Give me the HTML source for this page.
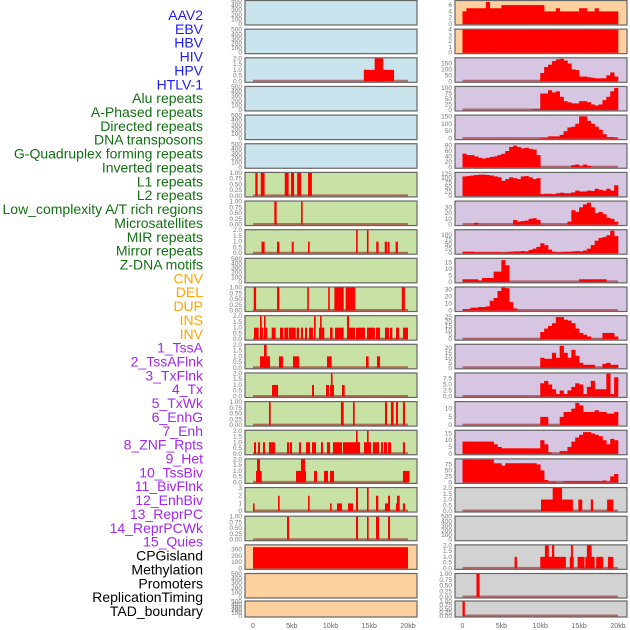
<!DOCTYPE html>
<html><head><meta charset="utf-8"><style>
html,body{margin:0;padding:0;background:#fff;}
svg{display:block;font-family:"Liberation Sans",sans-serif;}
</style></head><body>
<svg id="chart" width="630" height="630" viewBox="0 0 630 630" xmlns="http://www.w3.org/2000/svg">
<g id="labels"></g>
<g id="panels"></g>
<g id="xaxes"></g>
</svg>
<script>
// ---------- data ----------
const featureLabels = ["AAV2","EBV","HBV","HIV","HPV","HTLV-1","Alu repeats","A-Phased repeats","Directed repeats","DNA transposons","G-Quadruplex forming repeats","Inverted repeats","L1 repeats","L2 repeats","Low_complexity A/T rich regions","Microsatellites","MIR repeats","Mirror repeats","Z-DNA motifs","CNV","DEL","DUP","INS","INV","1_TssA","2_TssAFlnk","3_TxFlnk","4_Tx","5_TxWk","6_EnhG","7_Enh","8_ZNF_Rpts","9_Het","10_TssBiv","11_BivFlnk","12_EnhBiv","13_ReprPC","14_ReprPCWk","15_Quies","CPGisland","Methylation","Promoters","ReplicationTiming","TAD_boundary"];
const labelGroups = [6,13,5,15,5];
const xTickValues = [0,5,10,15,20];
const xTickLabels = ["0","5kb","10kb","15kb","20kb"];

const emptyTicks = [0,100,200,300,400,500];
const midColors = ["blue","blue","blue","blue","blue","blue","green","green","green","green","green","green","green","green","green","green","green","green","green","peach","peach","peach"];
const rightColors = ["peach","peach","lav","lav","lav","lav","lav","lav","lav","lav","lav","lav","lav","lav","lav","lav","lav","gray","gray","gray","gray","gray"];

// middle column: segments [startKb, endKb, value]
const midRow2Bars = [[14.3,18.2,1],[15.7,16.8,2]];
const midRow6Bars = [[0.3,0.6,1],[1.0,1.5,1],[4.1,4.6,1],[4.9,5.3,1],[5.7,6.2,1],[7.1,7.6,1]];
const midRow7Bars = [[2.75,3.05,1],[6.2,6.4,1]];
const midRow8Bars = [[1.1,1.5,1],[3.1,3.4,1],[5.0,5.25,1],[7.1,7.3,1],[13.3,13.5,2],[14.7,14.9,2],[15.9,16.2,1],[17.0,17.3,1],[17.4,17.6,1],[18.4,18.7,1]];
const midRow10Bars = [[0.1,0.4,1],[3.1,3.4,1],[7.0,7.2,1],[9.7,9.9,1],[10.5,11.7,1],[11.95,13.2,1],[19.2,19.6,1]];
const midRow11Bars = [[0.13,0.73,1],[0.9,1.12,2],[1.12,1.25,1],[1.42,1.63,2],[1.63,1.76,1],[2.41,2.92,1],[3.48,3.91,1],[4.04,4.56,1],[4.65,5.51,1],[5.63,5.94,1],[6.19,6.45,1],[6.71,6.97,1],[7.23,7.74,1],[7.87,8.09,2],[8.52,9.2,1],[8.65,8.82,2],[9.94,10.28,1],[10.58,11.7,1],[12.13,12.39,2],[12.39,13.16,1],[13.29,14.45,1],[14.71,15.74,1],[15.87,16.39,1],[17.03,17.55,1],[17.68,17.98,1],[18.45,18.84,1],[19.35,20.0,1]];
const midRow12Bars = [[0.9,2.19,1],[1.42,1.76,2],[3.35,3.87,1],[5.16,5.94,1],[9.55,10.15,1],[14.58,14.92,1],[16.0,16.39,1]];
const midRow13Bars = [[2.45,3.23,1],[7.61,7.87,1],[9.42,9.81,1],[9.94,10.45,1],[10.06,10.24,2],[11.48,11.83,1]];
const midRow14Bars = [[2.06,2.28,1],[11.35,11.7,1],[12.9,13.12,1],[17.03,17.29,1],[17.8,18.15,1],[18.45,18.71,1],[19.35,19.61,1]];
const midRow15Bars = [[0.13,0.39,1],[0.65,0.9,1],[1.29,1.55,1],[2.06,2.84,1],[4.39,4.65,1],[4.77,5.03,1],[5.94,6.19,1],[6.84,7.35,1],[7.61,8.13,1],[8.77,9.03,1],[9.55,9.94,1],[10.32,11.48,1],[11.61,13.81,1],[13.29,13.5,2],[14.32,15.23,1],[14.71,14.92,2],[15.48,16.26,1],[16.52,16.77,1],[16.9,17.29,1],[17.42,17.81,1],[19.35,19.61,1]];
const midRow16Bars = [[0.39,1.12,1],[0.52,0.9,2],[5.55,6.84,1],[6.19,6.71,2],[7.87,8.26,1],[9.16,9.68,1],[9.94,10.45,1],[19.35,20.2,1]];
const midRow17Bars = [[0,0.1,1],[3.23,3.44,2],[7.1,7.3,2],[9.94,10.15,1],[10.84,11.48,1],[12.26,12.9,1],[13.29,13.55,3],[14.71,14.92,3],[15.87,16.17,2],[17.03,17.55,1],[17.42,17.68,2],[18.45,18.71,1],[18.58,18.93,2],[19.35,19.61,1]];
const midRow18Bars = [[4.39,4.65,1],[13.29,13.55,1],[14.71,14.92,1],[15.87,16.26,1],[17.42,17.68,1]];
const midRow19Bars = [[0,20,340]];

// right column: 40 bins of 0.5kb
const rightRow0Bins = [4,5,5,5,5,5,7,5,5,5,6,6,6,6,6,6,6,6,6,6,6,4,4,4,5,4,4,4,4,4,5,5,4,4,5,4,4,4,4,4];
const rightRow1Bins = [4,4,4,4,4,4,4,4,4,4,4,4,4,4,4,4,4,4,4,4,4,4,4,4,4,4,4,4,4,4,4,4,4,4,4,4,4,4,4,4];
const rightRow2Bins = [0,0,0,0,0,0,0,0,0,0,0,0,0,0,0,0,0,0,0,0,70,120,140,170,185,190,175,150,100,95,40,40,35,30,25,25,25,50,75,40];
const rightRow3Bins = [0,0,0,0,0,0,0,0,0,0,0,0,0,0,0,0,0,0,3,3,75,75,90,80,85,60,40,35,30,30,40,40,35,25,20,25,45,60,85,100];
const rightRow4Bins = [0,0,0,0,0,0,0,0,0,0,0,0,0,0,0,0,0,0,0,0,5,5,15,15,15,25,50,75,80,100,150,150,120,100,80,60,30,10,10,5];
const rightRow5Bins = [50,45,45,40,35,32,35,38,40,45,50,60,75,80,75,70,72,68,65,45,0,0,0,0,0,0,0,0,8,10,5,10,5,0,0,0,0,0,0,0];
const rightRow6Bins = [110,112,115,118,120,120,118,115,110,105,85,95,105,100,95,110,112,105,95,100,10,12,12,10,15,18,15,15,20,30,25,25,30,28,40,35,30,40,30,60];
const rightRow7Bins = [0,0,0,3,0,0,0,0,0,0,0,0,0,8,5,6,7,10,11,8,0,0,0,0,0,0,0,5,25,22,30,35,38,30,20,22,18,12,10,5];
const rightRow8Bins = [8,8,8,5,5,5,5,5,6,5,3,5,8,10,10,12,10,18,25,35,55,45,20,8,5,5,8,8,10,12,10,15,25,45,70,85,90,100,125,95];
const rightRow9Bins = [2,2,2,2,1,3,3,3,8,8,17,13,0,0,0,0,0,0,0,0,0,0,0,0,0,0,0,0,0,0,2,2,2,2,2,2,2,0,0,0];
const rightRow10Bins = [2,2,4,4,5,5,6,14,18,28,33,32,12,3,0,0,0,0,0,0,0,0,0,0,0,0,0,0,0,0,0,0,0,0,0,0,0,0,0,0];
const rightRow11Bins = [0,0,0,0,0,0,0,0,0,0,0,0,0,0,0,0,0,0,0,0,8,12,15,18,25,25,22,21,18,12,7,5,3,0,0,0,7,7,7,3];
const rightRow12Bins = [0,0,0,0,0,0,0,0,0,0,0,0,0,0,0,0,0,0,0,0,10,9,9,15,10,22,15,10,18,12,5,3,3,3,0,0,4,5,3,3];
const rightRow13Bins = [0,0,0,0,0,0,0,0,0,0,0,0,0,0,0,0,0,0,0,0,5.5,6.5,5,3,1,2.5,1,2.5,4,5.5,5,1,4,6.5,3,3,3,9.5,1,8];
const rightRow14Bins = [0,0,0,0,0,0,0,0,0,0,0,0,0,0,0,0,0,0,0,0,5,5,0,0,0,5,8,8,10,13.5,12,8,8,8,9,8,8,7,7,8];
const rightRow15Bins = [9,9,9,9,9,9,9,9,7,5,4,4,4,4,4,4,4,4,4,4,10,7,1,0,0,2,2,5,9,12,14,16,16,15,14,13,10,7,11,10];
const rightRow16Bins = [95,95,95,95,95,95,95,95,80,80,70,80,80,80,80,80,80,80,80,75,50,10,3,3,0,0,5,5,5,5,5,5,5,5,5,5,8,3,25,35];
const rightRow17Bars = [[10.1,14.2,1],[11.6,12.8,2],[14.9,15.4,1],[16.5,16.8,1],[18.6,19.4,1]];
const rightRow19Bars = [[6.7,7.0,1],[10.0,13.3,1],[10.6,11.1,2],[11.5,11.8,2],[13.8,14.3,1],[13.95,14.2,2],[14.8,15.7,1],[15.8,17.0,1],[16.0,16.6,2],[17.2,18.1,1],[18.7,19.4,1]];
const rightRow20Bars = [[1.8,2.2,1]];
const rightRow21Bars = [[0,0.3,1]];

// tick arrays
const ticks2 = [0,0.5,1.0,1.5,2.0];
const ticks1 = [0,0.25,0.5,0.75,1.0];
const ticks3 = [0,1,2,3];

// ---------- drawing ----------
const NS = "http://www.w3.org/2000/svg";
const svg = document.getElementById("chart");
const gLabels = document.getElementById("labels");
const gPanels = document.getElementById("panels");
const gX = document.getElementById("xaxes");
const fills = {blue:"#c9e4ec",green:"#c8e1a5",peach:"#fdd09e",lav:"#d6c6e2",gray:"#d2d2d2"};
const cols = {mid:{x0:245,x1:417,d0:253,d1:408,tx:242}, right:{x0:455,x1:627,d0:462.5,d1:618,tx:452}};
function mk(tag, attrs, parent){const e=document.createElementNS(NS,tag);for(const k in attrs)e.setAttribute(k,attrs[k]);parent.appendChild(e);return e;}
function rowTop(i){return i<21? i*28.65+0.5 : 601;}
function rowH(i){return i<21? 24.5 : 16;}
function xScale(col,kb){return col.d0+(col.d1-col.d0)*kb/20;}
function fmt(v,t){const dec=t.some(x=>x%1!==0)?(t.some(x=>(x*100)%50!==0)?2:1):0;return v.toFixed(dec);}

// labels
const labelColors=["#1c1cf5","#137013","#ffa500","#a128ee","#000000"];
let li=0;
labelGroups.forEach((n,gi)=>{for(let k=0;k<n;k++){
  const t=mk("text",{x:203,y:15+li*13.86+5,"text-anchor":"end","font-size":"14",fill:labelColors[gi]},gLabels);
  t.textContent=featureLabels[li];
  
  
  li++;}});

function drawPanel(colKey,i,color,ticks,yMax,marks,kind){
  const col=cols[colKey];const top=rowTop(i),h=rowH(i);
  const g=mk("g",{},gPanels);
  
  
  const r=mk("rect",{x:col.x0,y:top,width:col.x1-col.x0,height:h,fill:fills[color],stroke:"#666","stroke-width":"1.2"},g);
  
  
  const y0=top+h-1,yTop=top+0.5;
  const yS=v=>y0-(y0-yTop)*v/yMax;
  ticks.forEach(v=>{
    const t=mk("text",{x:col.tx,y:yS(v)+2,"text-anchor":"end","font-size":"6.5",fill:"#777"},g);
    t.textContent=fmt(v,ticks);
    
    
  });
  if(!marks) return;
  const bl=mk("line",{x1:xScale(col,0),x2:xScale(col,20),y1:y0-0.5,y2:y0-0.5,stroke:"rgba(150,20,20,0.55)","stroke-width":"2"},g);
  
  
  if(kind==="bins"){
    marks.forEach((v,b)=>{ if(v<=0) return;
      const xa=xScale(col,b*0.5),xb=xScale(col,(b+1)*0.5);
      const rr=mk("rect",{x:xa,y:yS(v),width:xb-xa+0.3,height:y0-yS(v),fill:"#ff0000"},g);
      
      
    });
  } else {
    marks.forEach(s=>{
      const xa=xScale(col,s[0]),xb=xScale(col,s[1]);
      const rr=mk("rect",{x:xa,y:yS(s[2]),width:Math.max(1.6,xb-xa),height:y0-yS(s[2]),fill:"#ff0000"},g);
      
      
    });
  }
}

// middle column
const midSpec={2:[ticks2,2,midRow2Bars],6:[ticks1,1,midRow6Bars],7:[ticks1,1,midRow7Bars],8:[ticks2,2,midRow8Bars],10:[ticks1,1,midRow10Bars],11:[ticks2,2,midRow11Bars],12:[ticks2,2,midRow12Bars],13:[ticks2,2,midRow13Bars],14:[ticks1,1,midRow14Bars],15:[ticks2,2,midRow15Bars],16:[ticks2,2,midRow16Bars],17:[ticks3,3,midRow17Bars],18:[ticks1,1,midRow18Bars],19:[[0,100,200,300],370,midRow19Bars]};
for(let i=0;i<22;i++){
  const s=midSpec[i];
  if(s) drawPanel("mid",i,midColors[i],s[0],s[1],s[2],"bars");
  else drawPanel("mid",i,midColors[i],emptyTicks,500,null);
}
// right column
const rightSpec={0:[[0,2,4,6],7.3,rightRow0Bins,"bins"],1:[[0,1,2,3,4],4,rightRow1Bins,"bins"],2:[[0,50,100,150],194,rightRow2Bins,"bins"],3:[[0,25,50,75,100],105,rightRow3Bins,"bins"],4:[[0,50,100,150],155,rightRow4Bins,"bins"],5:[[0,20,40,60,80],85,rightRow5Bins,"bins"],6:[[0,25,50,75,100,125],130,rightRow6Bins,"bins"],7:[[0,10,20,30],40,rightRow7Bins,"bins"],8:[[0,25,50,75,100],128,rightRow8Bins,"bins"],9:[[0,5,10,15],18,rightRow9Bins,"bins"],10:[[0,10,20,30],33,rightRow10Bins,"bins"],11:[[0,5,10,15,20,25],26,rightRow11Bins,"bins"],12:[[0,5,10,15,20],23,rightRow12Bins,"bins"],13:[[0,2.5,5,7.5],9.6,rightRow13Bins,"bins"],14:[[0,5,10],14,rightRow14Bins,"bins"],15:[[0,5,10,15],17,rightRow15Bins,"bins"],16:[[0,25,50,75],96,rightRow16Bins,"bins"],17:[ticks2,2,rightRow17Bars,"bars"],19:[ticks2,2,rightRow19Bars,"bars"],20:[ticks1,1,rightRow20Bars,"bars"],21:[ticks1,1,rightRow21Bars,"bars"]};
for(let i=0;i<22;i++){
  const s=rightSpec[i];
  if(s) drawPanel("right",i,rightColors[i],s[0],s[1],s[2],s[3]);
  else drawPanel("right",i,rightColors[i],emptyTicks,500,null);
}
// x axes
["mid","right"].forEach(k=>{const col=cols[k];
  xTickValues.forEach((v,j)=>{
    const t=mk("text",{x:xScale(col,v),y:628,"text-anchor":"middle","font-size":"7",fill:"#666"},gX);
    t.textContent=xTickLabels[j];
    
    
  });
});
</script>
</body></html>
